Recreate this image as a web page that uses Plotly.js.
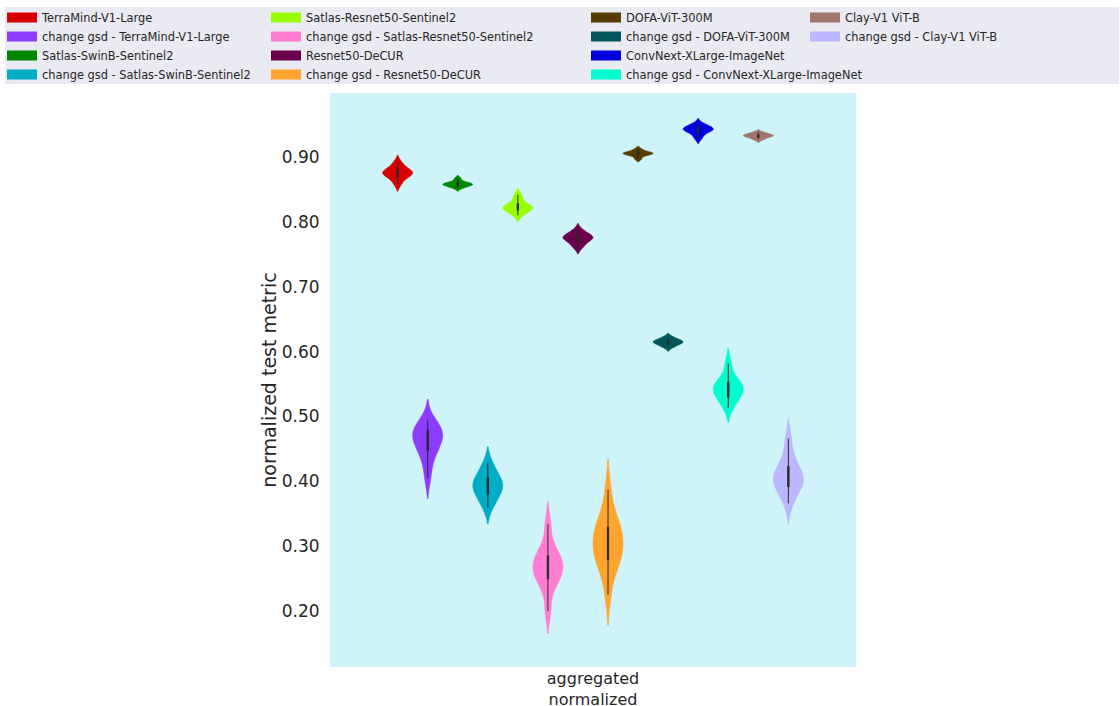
<!DOCTYPE html>
<html>
<head>
<meta charset="utf-8">
<script src="https://cdn.plot.ly/plotly-3.0.1.min.js"></script>
<style>html,body{margin:0;padding:0;background:#fff;}#chart{width:1120px;height:706px;}</style>
</head>
<body>
<div id="chart"></div>
<script>
const category = "aggregated<br>normalized";

const modelNames = [
  "TerraMind-V1-Large",
  "change gsd - TerraMind-V1-Large",
  "Satlas-SwinB-Sentinel2",
  "change gsd - Satlas-SwinB-Sentinel2",
  "Satlas-Resnet50-Sentinel2",
  "change gsd - Satlas-Resnet50-Sentinel2",
  "Resnet50-DeCUR",
  "change gsd - Resnet50-DeCUR",
  "DOFA-ViT-300M",
  "change gsd - DOFA-ViT-300M",
  "ConvNext-XLarge-ImageNet",
  "change gsd - ConvNext-XLarge-ImageNet",
  "Clay-V1 ViT-B",
  "change gsd - Clay-V1 ViT-B"
];

const modelColors = [
  "#d60000", "#8c3bff", "#018700", "#00acc6", "#97ff00", "#ff7ed1", "#6b004f",
  "#ffa52f", "#573b00", "#005659", "#0000dd", "#00fdcf", "#a1756a", "#bcb7ff"
];

// normalized test metric samples per model (estimated from the figure)
const terramind       = [0.858, 0.866, 0.870, 0.873, 0.875, 0.876, 0.878, 0.881, 0.885, 0.892];
const terramindGsd    = [0.405, 0.430, 0.445, 0.452, 0.460, 0.467, 0.471, 0.476, 0.480, 0.485, 0.495];
const satlasSwin      = [0.852, 0.855, 0.856, 0.857, 0.858, 0.859, 0.860, 0.862, 0.867];
const satlasSwinGsd   = [0.360, 0.372, 0.380, 0.386, 0.392, 0.396, 0.400, 0.406, 0.415, 0.428];
const satlasRes       = [0.810, 0.815, 0.818, 0.820, 0.822, 0.823, 0.825, 0.828, 0.835, 0.842];
const satlasResGsd    = [0.200, 0.235, 0.248, 0.255, 0.262, 0.268, 0.274, 0.280, 0.287, 0.300, 0.334];
const decur           = [0.761, 0.767, 0.772, 0.775, 0.776, 0.778, 0.781, 0.787];
const decurGsd        = [0.225, 0.262, 0.275, 0.281, 0.288, 0.295, 0.305, 0.315, 0.322, 0.328, 0.335, 0.350, 0.387];
const dofa            = [0.897, 0.902, 0.904, 0.905, 0.906, 0.907, 0.908, 0.912];
const dofaGsd         = [0.607, 0.611, 0.613, 0.615, 0.616, 0.618, 0.622];
const convnext        = [0.929, 0.936, 0.940, 0.942, 0.943, 0.945, 0.947, 0.951];
const convnextGsd     = [0.513, 0.525, 0.530, 0.536, 0.541, 0.545, 0.548, 0.553, 0.560, 0.582];
const clay            = [0.927, 0.930, 0.932, 0.933, 0.934, 0.935, 0.938];
const clayGsd         = [0.366, 0.382, 0.390, 0.396, 0.401, 0.405, 0.410, 0.418, 0.425, 0.440, 0.466];

const modelSamples = [terramind, terramindGsd, satlasSwin, satlasSwinGsd, satlasRes, satlasResGsd,
  decur, decurGsd, dofa, dofaGsd, convnext, convnextGsd, clay, clayGsd];

const yTicks = [0.2, 0.3, 0.4, 0.5, 0.6, 0.7, 0.8, 0.9];

const legendIds = ["legend", "legend2", "legend3", "legend4"];
const legendRows = 4;

const traces = [];
modelNames.forEach((name, i) => {
  traces.push({
    type: "violin",
    name: name,
    x: modelSamples[i].map(() => category),
    y: modelSamples[i],
    showlegend: false,
    fillcolor: modelColors[i],
    line: {color: modelColors[i], width: 0.5},
    opacity: 1,
    points: false,
    spanmode: "soft",
    box: {visible: true, width: 0.045, fillcolor: "#2a2a2a", line: {color: "#2a2a2a", width: 1}},
    meanline: {visible: false},
    hoveron: "violins"
  });
});
// legend entries
modelNames.forEach((name, i) => {
  traces.push({
    type: "scatter",
    mode: "lines",
    x: [null],
    y: [null],
    name: name,
    legend: legendIds[Math.floor(i / legendRows)],
    showlegend: true,
    line: {color: modelColors[i], width: 10},
    hoverinfo: "skip"
  });
});

const W = 526, H = 574, L = 330, T = 93;
const px = v => (v - L) / W;
const py = v => (T + H - v) / H;
const legendFont = {family: "DejaVu Sans, sans-serif", size: 11.4, color: "#262626"};
function legendAt(xpix) {
  return {x: px(xpix), xanchor: "left", y: py(3), yanchor: "top",
    orientation: "v", tracegroupgap: 0,
    bgcolor: "rgba(0,0,0,0)", borderwidth: 0, font: legendFont, itemclick: false, itemdoubleclick: false};
}

const layout = {
  width: 1120,
  height: 706,
  margin: {l: L, r: 1120 - L - W, t: T, b: 706 - T - H, autoexpand: false},
  paper_bgcolor: "#ffffff",
  plot_bgcolor: "#cef4fa",
  font: {family: "DejaVu Sans, sans-serif", color: "#262626"},
  violinmode: "group",
  violingap: 0.2,
  violingroupgap: 0,
  showlegend: true,
  legend: legendAt(2),
  legend2: legendAt(266),
  legend3: legendAt(586),
  legend4: legendAt(805),
  xaxis: {
    type: "category",
    showgrid: false,
    zeroline: false,
    showline: false,
    ticks: "",
    tickfont: {size: 16, color: "#262626"}
  },
  yaxis: {
    range: [0.1137, 0.9987],
    tickvals: yTicks,
    tickformat: ".2f",
    showgrid: false,
    zeroline: false,
    showline: false,
    ticks: "outside",
    ticklen: 6,
    tickcolor: "rgba(0,0,0,0)",
    tickfont: {size: 17, color: "#262626"},
    title: {text: "normalized test metric", font: {size: 19, color: "#262626"}}
  },
  shapes: [{
    type: "rect", xref: "paper", yref: "paper", layer: "below",
    x0: px(5), x1: px(1119), y0: py(84), y1: py(7),
    fillcolor: "#eaeaf2", line: {width: 0}
  }]
};

Plotly.newPlot("chart", traces, layout, {displayModeBar: false, staticPlot: true});
</script>
</body>
</html>
